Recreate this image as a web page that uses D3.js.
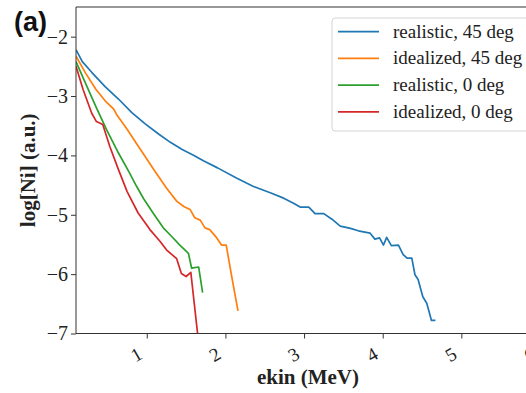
<!DOCTYPE html>
<html>
<head>
<meta charset="utf-8">
<script src="https://cdn.jsdelivr.net/npm/d3@7"></script>
<style>
  body { margin: 0; background: #fff; }
  svg { display: block; }
</style>
</head>
<body>
<div id="chart"></div>
<script>
// Series: [ekin (MeV), log[Ni]]
const realistic45 = [
  [0.10, -2.22], [0.18, -2.42], [0.30, -2.60], [0.47, -2.84], [0.64, -3.05],
  [0.81, -3.28], [0.98, -3.47], [1.15, -3.64], [1.30, -3.78], [1.45, -3.90],
  [1.60, -4.00], [1.72, -4.09], [1.90, -4.21], [2.14, -4.38], [2.35, -4.52],
  [2.57, -4.63], [2.74, -4.72], [2.86, -4.80], [2.95, -4.87], [3.06, -4.87],
  [3.14, -4.98], [3.25, -4.98], [3.35, -5.07], [3.46, -5.19], [3.59, -5.23],
  [3.69, -5.27], [3.84, -5.31], [3.90, -5.41], [3.96, -5.39], [4.01, -5.51],
  [4.05, -5.38], [4.11, -5.52], [4.20, -5.51], [4.26, -5.67], [4.31, -5.73],
  [4.37, -5.73], [4.41, -6.01], [4.45, -6.09], [4.51, -6.38], [4.56, -6.49],
  [4.62, -6.78], [4.67, -6.78]
];
const idealized45 = [
  [0.10, -2.33], [0.22, -2.61], [0.35, -2.88], [0.47, -3.08], [0.58, -3.22],
  [0.62, -3.32], [0.75, -3.56], [0.85, -3.76], [0.96, -3.98], [1.08, -4.22],
  [1.25, -4.55], [1.38, -4.77], [1.47, -4.86], [1.55, -4.91], [1.61, -5.05],
  [1.68, -5.09], [1.74, -5.22], [1.80, -5.25], [1.89, -5.39], [1.95, -5.51],
  [2.01, -5.51], [2.08, -6.04], [2.16, -6.62]
];
const realistic0 = [
  [0.10, -2.42], [0.24, -2.84], [0.36, -3.20], [0.49, -3.57], [0.64, -3.96],
  [0.77, -4.27], [0.87, -4.52], [0.96, -4.73], [1.08, -4.97], [1.21, -5.22],
  [1.32, -5.37], [1.42, -5.51], [1.53, -5.65], [1.57, -5.90], [1.66, -5.88],
  [1.71, -6.31]
];
const idealized0 = [
  [0.10, -2.50], [0.19, -2.89], [0.30, -3.29], [0.36, -3.43], [0.44, -3.48],
  [0.53, -3.85], [0.64, -4.24], [0.75, -4.61], [0.89, -4.97], [1.04, -5.25],
  [1.17, -5.45], [1.25, -5.59], [1.38, -5.74], [1.44, -5.99], [1.50, -6.04],
  [1.56, -5.97], [1.65, -7.05]
];

const seriesNames = ['realistic, 45 deg', 'idealized, 45 deg', 'realistic, 0 deg', 'idealized, 0 deg'];
const seriesData = [realistic45, idealized45, realistic0, idealized0];
const colors = ['#1f77b4', '#ff7f0e', '#2ca02c', '#d62728'];

const xTicks = [1, 2, 3, 4, 5, 6];
const yTicks = [-7, -6, -5, -4, -3, -2];

function createChart() {
    const width = 526;
    const height = 393;
    // plot area (right edge runs off the picture)
    const area = { left: 76, right: 540, top: 7, bottom: 333.5 };

    const svg = d3.select('#chart')
        .append('svg')
        .attr('width', width)
        .attr('height', height);

    const xScale = d3.scaleLinear().domain([0.1, 6.0]).range([area.left, area.right]);
    const yScale = d3.scaleLinear().domain([-7, -1.5]).range([area.bottom, area.top]);

    // clip the lines to the axes box
    svg.append('clipPath').attr('id', 'clip')
        .append('rect')
        .attr('x', area.left).attr('y', area.top)
        .attr('width', area.right - area.left).attr('height', area.bottom - area.top);

    // Curves
    const line = d3.line()
        .x((d) => xScale(d[0]))
        .y((d) => yScale(d[1]));

    svg.append('g')
        .attr('clip-path', 'url(#clip)')
        .selectAll('path')
        .data(seriesData)
        .join('path')
        .attr('d', line)
        .attr('fill', 'none')
        .attr('stroke', (d, i) => colors[i])
        .attr('stroke-width', 1.7)
        .attr('stroke-linejoin', 'round');

    // Y axis
    const yAxis = svg.append('g')
        .attr('transform', `translate(${area.left}, 0)`)
        .call(d3.axisLeft(yScale).tickValues(yTicks).tickSize(5).tickPadding(3)
            .tickFormat((d) => '\u2212' + Math.abs(d)));
    yAxis.select('.domain').remove();
    yAxis.selectAll('line').attr('stroke', '#333');
    yAxis.selectAll('text')
        .attr('font-family', '"Liberation Serif", serif')
        .attr('font-size', 20)
        .attr('fill', '#222');

    // X axis, labels rotated
    const xAxis = svg.append('g')
        .attr('transform', `translate(0, ${area.bottom})`)
        .call(d3.axisBottom(xScale).tickValues(xTicks).tickSize(5).tickFormat(d3.format('d')));
    xAxis.select('.domain').remove();
    xAxis.selectAll('line').attr('stroke', '#333');
    xAxis.selectAll('text')
        .attr('font-family', '"Liberation Serif", serif')
        .attr('font-size', 19)
        .attr('fill', '#222')
        .attr('text-anchor', 'middle')
        .attr('dy', null)
        .attr('y', null)
        .attr('dominant-baseline', 'central')
        .attr('transform', 'translate(-11, 21) rotate(-30)');

    // Frame (left and top spines; right one is off the picture)
    svg.append('path')
        .attr('d', `M${area.left},${area.bottom}V${area.top}H${area.right}`)
        .attr('fill', 'none')
        .attr('stroke', '#333')
        .attr('stroke-width', 1);
    svg.append('line')
        .attr('x1', area.left).attr('x2', area.right)
        .attr('y1', area.bottom).attr('y2', area.bottom)
        .attr('stroke', '#333');

    // Axis titles
    svg.append('text')
        .attr('x', (area.left + area.right) / 2)
        .attr('y', 384)
        .attr('text-anchor', 'middle')
        .attr('font-family', '"Liberation Serif", serif')
        .attr('font-weight', 'bold')
        .attr('font-size', 21)
        .attr('fill', '#222')
        .text('ekin (MeV)');

    svg.append('text')
        .attr('transform', `translate(35, ${(area.top + area.bottom) / 2}) rotate(-90)`)
        .attr('text-anchor', 'middle')
        .attr('font-family', '"Liberation Serif", serif')
        .attr('font-weight', 'bold')
        .attr('font-size', 21)
        .attr('fill', '#222')
        .text('log[Ni] (a.u.)');

    // Panel tag
    svg.append('text')
        .attr('x', 14)
        .attr('y', 31)
        .attr('font-family', '"Liberation Sans", Arial, sans-serif')
        .attr('font-weight', 'bold')
        .attr('font-size', 27)
        .attr('fill', '#111')
        .text('(a)');

    // Legend
    const legend = svg.append('g').attr('transform', 'translate(332, 18)');
    legend.append('rect')
        .attr('width', 220).attr('height', 113)
        .attr('rx', 3)
        .attr('fill', '#fff')
        .attr('fill-opacity', 0.85)
        .attr('stroke', '#d4d4d4');

    const items = legend.selectAll('g.item')
        .data(seriesNames)
        .join('g')
        .attr('class', 'item')
        .attr('transform', (d, i) => `translate(0, ${13.7 + i * 26.7})`);
    items.append('line')
        .attr('x1', 6).attr('x2', 47)
        .attr('stroke', (d, i) => colors[i])
        .attr('stroke-width', 1.7);
    items.append('text')
        .attr('x', 61)
        .attr('y', 6)
        .attr('font-family', '"Liberation Serif", serif')
        .attr('font-size', 19)
        .attr('fill', '#222')
        .text((d) => d);
}

document.addEventListener('DOMContentLoaded', createChart);
</script>
</body>
</html>
